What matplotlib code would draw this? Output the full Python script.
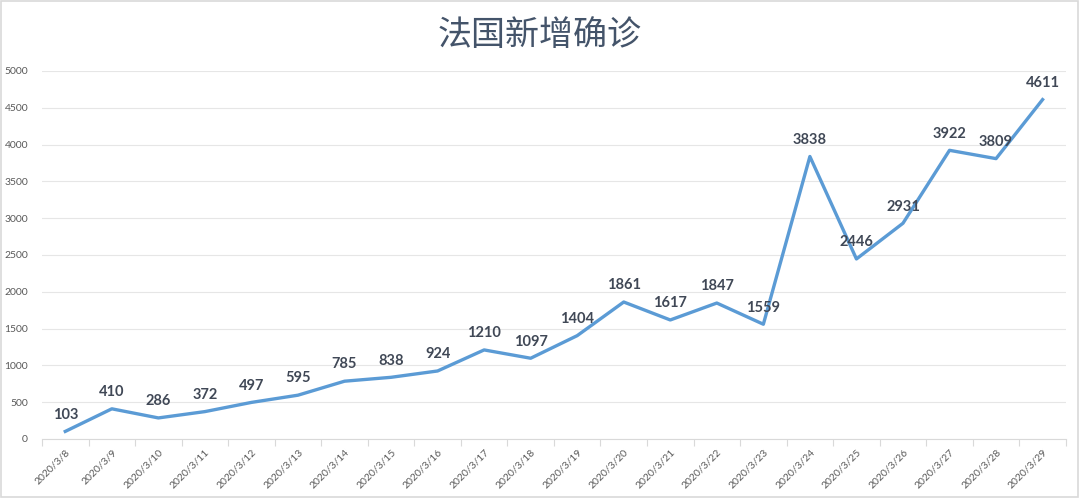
import matplotlib
matplotlib.use("Agg")
import matplotlib.pyplot as plt
from matplotlib.patches import Rectangle

plt.rcParams['font.family'] = ['Noto Sans CJK SC', 'DejaVu Sans']

dates = ["2020/3/8", "2020/3/9", "2020/3/10", "2020/3/11", "2020/3/12", "2020/3/13",
         "2020/3/14", "2020/3/15", "2020/3/16", "2020/3/17", "2020/3/18", "2020/3/19",
         "2020/3/20", "2020/3/21", "2020/3/22", "2020/3/23", "2020/3/24", "2020/3/25",
         "2020/3/26", "2020/3/27", "2020/3/28", "2020/3/29"]
cases = [103, 410, 286, 372, 497, 595, 785, 838, 924, 1210, 1097, 1404,
         1861, 1617, 1847, 1559, 3838, 2446, 2931, 3922, 3809, 4611]
yticks = [0, 500, 1000, 1500, 2000, 2500, 3000, 3500, 4000, 4500, 5000]
title = "法国新增确诊"

fig = plt.figure(figsize=(10.8, 4.98), dpi=100)
fig.patches.append(Rectangle((0.001, 0.002), 0.997, 0.995, transform=fig.transFigure,
                             fill=False, edgecolor='#d9d9d9', linewidth=1.2))
ax = fig.add_axes([0.0389, 0.1185, 0.948, 0.739])

x = list(range(len(dates)))
ax.plot(x, cases, color='#5B9BD5', linewidth=2.4, solid_joinstyle='round')
for xi, v in zip(x, cases):
    ax.annotate(str(v), (xi, v), xytext=(0, 7), textcoords='offset points',
                ha='center', va='bottom', fontsize=10.5, fontweight='bold', color='#404856',
                family=['Lato', 'DejaVu Sans'])

ax.set_xlim(-0.5, len(dates) - 0.5)
ax.set_ylim(0, 5000)
ax.set_yticks(yticks)
ax.set_yticklabels([str(t) for t in yticks], fontsize=7.5, color='#595959',
                   family=['Lato', 'DejaVu Sans'])
ax.set_xticks(x)
ax.set_xticklabels(dates, rotation=45, ha='right', rotation_mode='anchor',
                   fontsize=7.5, color='#595959', family=['Lato', 'DejaVu Sans'])
ax.tick_params(axis='x', which='major', length=0, pad=6)
ax.set_xticks([i - 0.5 for i in range(len(dates) + 1)], minor=True)
ax.tick_params(axis='x', which='minor', length=5, color='#d9d9d9', width=0.8)
ax.tick_params(axis='y', length=0, pad=10)

ax.grid(axis='y', color='#e6e6e6', linewidth=0.8)
ax.set_axisbelow(True)
for s in ['top', 'right', 'left']:
    ax.spines[s].set_visible(False)
ax.spines['bottom'].set_color('#d9d9d9')
ax.spines['bottom'].set_linewidth(0.8)

fig.text(0.5, 0.928, title, ha='center', va='center', fontsize=24.5, color='#44546A')

fig.savefig("out.png", dpi=100, facecolor='white')
